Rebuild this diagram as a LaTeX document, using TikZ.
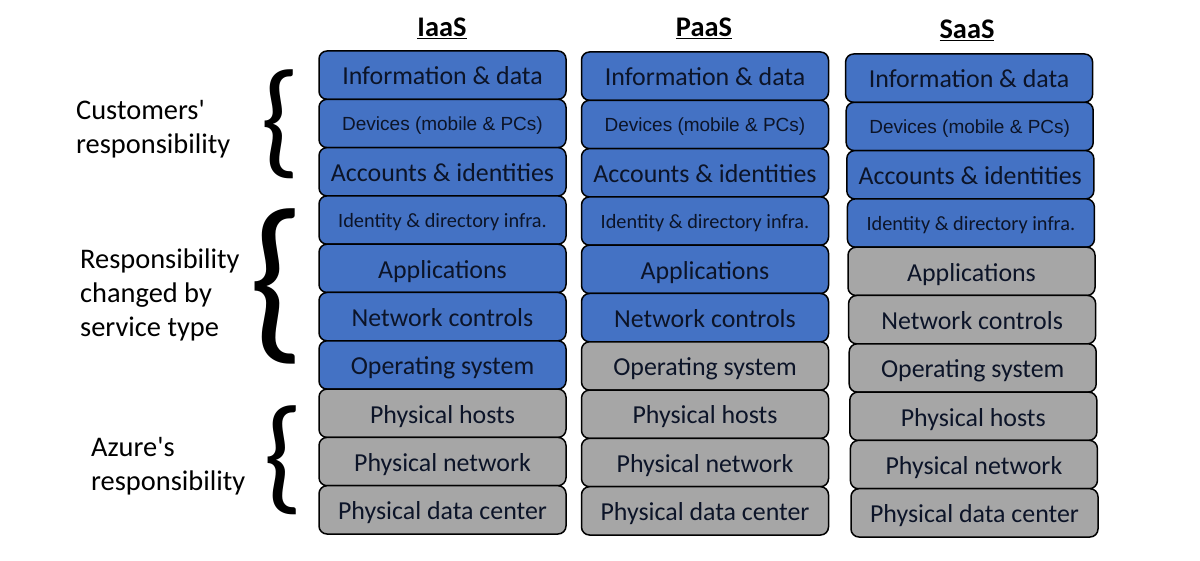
\documentclass[tikz,border=0pt]{standalone}
\usepackage{fontspec}
\setmainfont{Carlito}
\newfontfamily\arialfont{Liberation Sans}
\definecolor{custblue}{RGB}{68,114,196}
\definecolor{azgray}{RGB}{166,166,166}
\definecolor{navytext}{RGB}{12,20,40}

\begin{document}
\begin{tikzpicture}[x=1pt,y=-1pt,
  layer/.style={draw=black, line width=1.5pt, rounded corners=8pt, minimum width=247pt, minimum height=48.3pt, inner sep=0pt, text=navytext},
  big/.style={layer, font=\fontsize{25.9}{30}\selectfont, text height=22.5pt, text depth=3pt},
  dev/.style={layer, font=\arialfont\fontsize{19}{22}\selectfont, text height=15pt, text depth=1.4pt},
  idf/.style={layer, font=\fontsize{20.3}{24}\selectfont, text height=17pt, text depth=2pt},
  side/.style={align=left, anchor=west, font=\fontsize{28.4}{34}\selectfont, inner sep=0pt},
  head/.style={font=\bfseries\fontsize{28.4}{34}\selectfont, inner sep=0pt},
  brace/.style={inner sep=0pt}]
\useasboundingbox (0,0) rectangle (1200,561);

% service columns
\foreach \col/\cx/\cy/\sk/\nb in {iaas/442.5/51/0/7, paas/705/52/0/6, saas/968.5/54/0.6/4}{
  \foreach \txt/\st [count=\i] in {Information \& data/big, Devices (mobile \& PCs)/dev, Accounts \& identities/big, Identity \& directory infra./idf, Applications/big, Network controls/big, Operating system/big, Physical hosts/big, Physical network/big, Physical data center/big}{
    \ifnum\i>\nb \def\fc{azgray}\else\def\fc{custblue}\fi
    \node[\st, fill=\fc] (\col\i) at ({\cx+\i*\sk}, {\cy+(\i-0.5)*48.3}) {\txt};
  }
}

% headers
\node[head] (hiaas) at (442,28) {\underline{IaaS}};
\node[head] (hpaas) at (704,28) {\underline{PaaS}};
\node[head] (hsaas) at (967,30) {\underline{SaaS}};

% left labels
\node[side] (cust) at (76,129) {Customers\textquotesingle\\responsibility};
\node[side] (chg) at (80,295) {Responsibility\\changed by\\service type};
\node[side] (azr) at (91,466) {Azure\textquotesingle s\\responsibility};

% braces
\node[brace, font=\fontsize{127}{127}\selectfont] (b1) at (280,124) {\{};
\node[brace, font=\fontsize{181}{181}\selectfont] (b2) at (277,286) {\{};
\node[brace, font=\fontsize{127}{127}\selectfont] (b3) at (283,460) {\{};
\end{tikzpicture}
\end{document}
